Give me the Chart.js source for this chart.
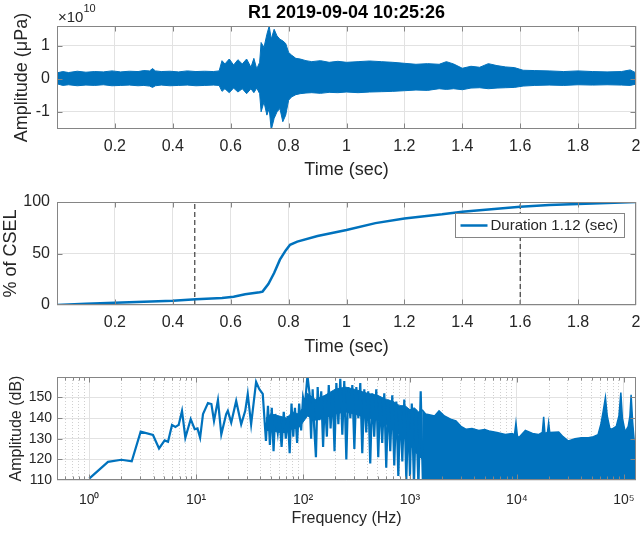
<!DOCTYPE html>
<html>
<head>
<meta charset="utf-8">
<script src="https://cdn.jsdelivr.net/npm/chart.js@4.4.1/dist/chart.umd.min.js"></script>
<style>
  html, body { margin: 0; padding: 0; background: #fff; }
  #wrap { position: relative; width: 642px; height: 533px; overflow: hidden; }
  canvas { position: absolute; left: 0; }
</style>
</head>
<body>
<div id="wrap">
  <canvas id="waveChart" width="642" height="190" style="top:0"></canvas>
  <canvas id="cselChart" width="642" height="170" style="top:190px"></canvas>
  <canvas id="specChart" width="642" height="173" style="top:360px"></canvas>
</div>
<script>
const chartTitle = "R1 2019-09-04 10:25:26";

// top panel: waveform envelope, in units of 1e10 uPa
const waveExponent = 10;
const waveTime = [0, 0.02, 0.04, 0.07, 0.1, 0.13, 0.16, 0.19, 0.22, 0.25,
  0.28, 0.3, 0.32, 0.33, 0.34, 0.36, 0.39, 0.42, 0.45, 0.48,
  0.51, 0.54, 0.56, 0.57, 0.58, 0.595, 0.61, 0.625, 0.64, 0.655,
  0.67, 0.68, 0.69, 0.7, 0.705, 0.715, 0.725, 0.733, 0.74, 0.75,
  0.76, 0.77, 0.78, 0.79, 0.8, 0.81, 0.825, 0.84, 0.86, 0.88,
  0.91, 0.94, 0.97, 1.0, 1.04, 1.08, 1.12, 1.16, 1.2, 1.24,
  1.28, 1.32, 1.345, 1.37, 1.4, 1.43, 1.46, 1.49, 1.52, 1.55,
  1.58, 1.61, 1.65, 1.7, 1.75, 1.8, 1.85, 1.9, 1.95, 1.98, 2.0];
const waveUpper = [0.18, 0.22, 0.19, 0.23, 0.2, 0.22, 0.21, 0.24, 0.21, 0.23,
  0.22, 0.25, 0.24, 0.31, 0.24, 0.22, 0.23, 0.21, 0.24, 0.22,
  0.23, 0.22, 0.24, 0.55, 0.45, 0.6, 0.42, 0.58, 0.45, 0.6,
  0.35, 0.62, 0.3, 0.5, 1.1, 0.95, 1.35, 1.6, 1.2, 1.5,
  1.3, 1.2, 1.15, 1.07, 0.8, 0.72, 0.62, 0.6, 0.55, 0.52,
  0.55, 0.5, 0.53, 0.5, 0.52, 0.54, 0.52, 0.5, 0.47, 0.44,
  0.46, 0.44, 0.52, 0.45, 0.32, 0.38, 0.35, 0.46, 0.4, 0.36,
  0.34, 0.26, 0.25, 0.24, 0.22, 0.24, 0.22, 0.21, 0.22, 0.27, 0.18];
const waveLower = [-0.15, -0.2, -0.18, -0.21, -0.19, -0.2, -0.18, -0.21, -0.2, -0.19,
  -0.21, -0.2, -0.22, -0.26, -0.21, -0.19, -0.21, -0.2, -0.19, -0.21,
  -0.2, -0.19, -0.2, -0.38, -0.3, -0.42, -0.28, -0.4, -0.3, -0.45,
  -0.3, -0.42, -0.28, -0.45, -1.0, -0.7, -1.1, -0.9, -1.55, -1.2,
  -1.0, -0.9, -1.3, -1.1, -0.65, -0.55, -0.48, -0.45, -0.43, -0.42,
  -0.44, -0.41, -0.42, -0.4, -0.42, -0.4, -0.39, -0.38, -0.36, -0.34,
  -0.35, -0.3, -0.32, -0.3, -0.33, -0.28, -0.27, -0.3, -0.28, -0.27,
  -0.26, -0.22, -0.2, -0.19, -0.2, -0.18, -0.19, -0.18, -0.19, -0.2, -0.16];

// middle panel: cumulative SEL in percent
const cselTime = [0, 0.1, 0.2, 0.3, 0.4, 0.48, 0.57, 0.61, 0.65, 0.7, 0.71, 0.73, 0.75, 0.77, 0.79,
  0.805, 0.83, 0.9, 1.0, 1.1, 1.2, 1.33, 1.4, 1.5, 1.6, 1.7, 1.8, 1.9, 2.0];
const cselPct = [0, 1.2, 2.2, 3.2, 4.2, 5.5, 6.8, 8, 10.4, 12.3, 13, 20.4, 31, 44, 53,
  58.5, 61.5, 67, 72.8, 79.5, 84, 88, 90.6, 93, 95.5, 97, 98, 99, 100];
const durationBounds = [0.476, 1.6];
const durationLabel = "Duration 1.12 (sec)";

// bottom panel: spectrum line, mid band of the dense part, high freq envelope
const specFreq = [1.0, 1.5, 2.0, 2.5, 3.03, 3.95, 4.5, 5.08, 5.46, 5.95,
  6.4, 6.87, 7.38, 7.93, 8.9, 9.7, 10.3, 10.9, 11.6, 12.9,
  13.9, 14.7, 16, 17.2, 19.1, 19.8, 21.3, 23.7, 26.4, 28.8,
  30.4, 32.7, 36.4, 39, 42, 45, 47, 49, 51, 53,
  55, 58, 60, 63, 66, 69, 72, 75, 78, 81,
  84, 88, 92, 96, 100, 104, 110, 115, 119, 123,
  127, 132, 137, 142, 148, 154, 160, 167, 174, 181,
  189, 197, 205, 214, 223, 233, 243, 254, 265, 277,
  289, 302, 315, 329, 343, 358, 374, 390, 407, 425,
  444, 463, 484, 505, 527, 550, 575, 600, 626, 654,
  683, 713, 745, 778, 812, 848, 885, 924, 965, 1000,
  1040, 1090, 1140, 1200, 1260, 1320];
const specDb = [110.7, 118.8, 119.8, 119.1, 133.4, 131.8, 125.3, 129.2, 128.5, 136.7,
  135.7, 136.7, 143.5, 130.5, 139.5, 134.6, 135, 130.5, 141.9, 147.3,
  146.8, 138.6, 148.7, 132.1, 141.9, 143.5, 137.8, 148.3, 137, 143.5,
  151.7, 137, 157.5, 154, 151.7, 128.9, 146, 127, 145, 124,
  142, 133, 141, 126, 143, 130, 141, 123, 147, 131,
  145, 128, 147, 134, 150, 146, 160.5, 152, 130, 154,
  136, 121, 155, 139, 153, 126, 150, 131, 156, 135,
  153, 124, 157, 137, 159, 132, 158, 120, 155, 140,
  156, 125, 155, 140, 157, 123, 154, 133, 153, 118,
  152, 131, 154, 121, 150, 128, 152, 116, 149, 124,
  151, 117, 148, 112, 146, 119, 149, 110, 143, 112,
  147, 108, 144, 107, 153, 109];
const midFreq = [45, 50, 60, 70, 80, 90, 100, 110, 130, 160, 200, 250, 300, 400,
  500, 600, 700, 800, 900, 1000, 1100, 1200, 1300];
const midUpper = [140, 142, 141, 140, 143, 142, 145, 152, 149, 151, 154, 155, 154, 152,
  151, 149, 148, 146, 146, 144, 145, 143, 144];
const midLower = [134, 134, 133, 133, 135, 135, 138, 141, 139, 140, 142, 143, 142, 140,
  139, 137, 135, 132, 130, 127, 124, 122, 120];
const bandFreq = [1300, 1400, 1550, 1700, 1870, 2100, 2400,
  2690, 3000, 3330, 3800, 4400, 5000, 5480, 6500, 7800, 9000,
  9500, 9800, 10100, 10400, 12000, 14000, 15900, 17300, 17800, 18300,
  19300, 19800, 20300, 24600, 27000, 30300, 35000, 40000, 46700, 52000,
  57400, 61000, 64000, 67300, 70000, 74000, 77400, 85000, 90000, 93800,
  97000, 103000, 110000, 114000, 117000, 121000, 126000, 131000];
const bandDb = [144, 142, 141.5, 141, 143.5, 141, 139.5,
  138.6, 136, 134.6, 135, 134, 134.5, 133.8, 133, 132.1, 132.5,
  132, 137.8, 131.5, 130.5, 134, 132.5, 132, 133, 140.6, 132.5,
  133, 137.8, 133, 133.3, 131, 128.9, 130, 130.5, 130.5, 131,
  132, 137, 143, 150, 141, 135, 134.6, 136, 141, 152.4,
  140, 133.3, 136, 141, 151.3, 138, 127, 126];

// tick values
const timeTicks = [0, 0.2, 0.4, 0.6, 0.8, 1, 1.2, 1.4, 1.6, 1.8, 2];
const waveTicks = [-1, 0, 1];
const cselTicks = [0, 50, 100];
const dbTicks = [110, 120, 130, 140, 150];
const decadeTicks = [0.1, 1, 10, 100, 1000, 10000, 100000];

const FONT = "'Liberation Sans', Arial, Helvetica, sans-serif";
const BLUE = "#0072bd";
const TXT = "#262626";
const BOX = "#858585";
const GRID = "#e2e2e2";
const MINOR = "#d0d0d0";
const SUP = "⁰¹²³⁴⁵⁶⁷⁸⁹";

const freqMin = 0.5, freqMax = 130000;
const freqTicks = [];
decadeTicks.forEach((d) => {
  for (let m = 1; m < 10; m++) {
    const v = d * m;
    if (v >= freqMin && v <= freqMax) freqTicks.push(v);
  }
});

function isDecade(v) {
  const l = Math.log10(v);
  return Math.abs(l - Math.round(l)) < 1e-9;
}

function points(xs, ys) {
  return xs.map((x, i) => ({ x: x, y: ys[i] }));
}

function fixedTicks(values) {
  return (scale) => { scale.ticks = values.map((v) => ({ value: v })); };
}

function fixHeight(h) {
  return (scale) => { scale.height = h; scale.paddingLeft = 0; scale.paddingRight = 0; };
}

function fixWidth(w) {
  return (scale) => { scale.width = w; scale.paddingTop = 0; scale.paddingBottom = 0; };
}

function axisTitle(text, size, pad) {
  return { display: true, text: text, color: TXT, font: { family: FONT, size: size }, padding: pad };
}

// box round the axes, with inward tick marks like matlab
const boxPlugin = {
  id: "box",
  afterDatasetsDraw(chart) {
    const { ctx, chartArea: a, scales } = chart;
    const L = Math.round(a.left) + 0.5, R = Math.round(a.right) - 0.5;
    const T = Math.round(a.top) + 0.5, B = Math.round(a.bottom) - 0.5;
    ctx.save();
    ctx.strokeStyle = BOX;
    ctx.lineWidth = 1;
    ctx.beginPath();
    scales.x.ticks.forEach((t) => {
      const px = Math.round(scales.x.getPixelForValue(t.value)) + 0.5;
      if (px <= L + 1 || px >= R - 1) return;
      const len = scales.x.type === "logarithmic" && !isDecade(t.value) ? 3 : 5;
      ctx.moveTo(px, B); ctx.lineTo(px, B - len);
      ctx.moveTo(px, T); ctx.lineTo(px, T + len);
    });
    scales.y.ticks.forEach((t) => {
      const py = Math.round(scales.y.getPixelForValue(t.value)) + 0.5;
      if (py <= T + 1 || py >= B - 1) return;
      ctx.moveTo(L, py); ctx.lineTo(L + 5, py);
      ctx.moveTo(R, py); ctx.lineTo(R - 5, py);
    });
    ctx.stroke();
    ctx.strokeRect(L, T, R - L, B - T);
    ctx.restore();
  },
};
Chart.register(boxPlugin);

const waveHeader = {
  id: "waveHeader",
  afterDraw(chart) {
    const { ctx, chartArea: a } = chart;
    ctx.save();
    ctx.textBaseline = "middle";
    ctx.fillStyle = "#000";
    ctx.font = "bold 18px " + FONT;
    ctx.textAlign = "center";
    ctx.fillText(chartTitle, (a.left + a.right) / 2, 13.5);
    ctx.textAlign = "left";
    ctx.fillStyle = TXT;
    ctx.font = "15px " + FONT;
    ctx.fillText("×10", a.left + 1, 18);
    const w = ctx.measureText("×10").width;
    ctx.font = "11px " + FONT;
    ctx.fillText(String(waveExponent), a.left + 1 + w, 9);
    ctx.restore();
  },
};

const cselLegend = {
  id: "cselLegend",
  afterDraw(chart) {
    const { ctx, chartArea: a } = chart;
    const left = Math.round(a.right) - 181 + 0.5, top = Math.round(a.top) + 11 + 0.5;
    ctx.save();
    ctx.fillStyle = "#fff";
    ctx.fillRect(left, top, 169, 24);
    ctx.strokeStyle = BOX;
    ctx.lineWidth = 1;
    ctx.strokeRect(left, top, 169, 24);
    ctx.strokeStyle = BLUE;
    ctx.lineWidth = 2.5;
    ctx.beginPath();
    ctx.moveTo(left + 5, top + 12);
    ctx.lineTo(left + 32, top + 12);
    ctx.stroke();
    ctx.fillStyle = TXT;
    ctx.font = "15px " + FONT;
    ctx.textBaseline = "middle";
    ctx.fillText(durationLabel, left + 35, top + 12.5);
    ctx.restore();
  },
};

function baseOptions(padding) {
  return {
    responsive: false,
    animation: false,
    events: [],
    layout: { padding: padding },
    plugins: { legend: { display: false }, tooltip: { enabled: false } },
  };
}

function timeAxis(height) {
  return {
    type: "linear",
    min: 0,
    max: 2,
    afterBuildTicks: fixedTicks(timeTicks),
    afterFit: fixHeight(height),
    ticks: {
      color: TXT, font: { family: FONT, size: 16 }, padding: 8, autoSkip: false, maxRotation: 0,
      callback: (v) => (v === 0 ? "" : String(Math.round(v * 10) / 10)),
    },
    grid: { color: GRID, drawTicks: false },
    border: { display: false },
    title: axisTitle("Time (sec)", 18, { top: 0, bottom: 0 }),
  };
}

// top: waveform
const waveOpts = baseOptions({ top: 26, right: 6, bottom: 9.2, left: 0 });
waveOpts.scales = {
  x: timeAxis(51.8),
  y: {
    min: -1.52,
    max: 1.6,
    afterBuildTicks: fixedTicks(waveTicks),
    afterFit: fixWidth(57),
    ticks: { color: TXT, font: { family: FONT, size: 16 }, padding: 7, callback: (v) => String(v) },
    grid: { color: GRID, drawTicks: false },
    border: { display: false },
    title: axisTitle("Amplitude (μPa)", 18, { top: 11, bottom: 0 }),
  },
};
new Chart(document.getElementById("waveChart"), {
  type: "line",
  data: {
    datasets: [
      { data: points(waveTime, waveLower), borderColor: BLUE, borderWidth: 1, pointRadius: 0, fill: false },
      { data: points(waveTime, waveUpper), borderColor: BLUE, backgroundColor: BLUE, borderWidth: 1, pointRadius: 0, fill: "-1" },
    ],
  },
  options: waveOpts,
  plugins: [waveHeader],
});

// middle: cumulative SEL
const cselOpts = baseOptions({ top: 12, right: 6, bottom: 2.2, left: 0 });
cselOpts.scales = {
  x: timeAxis(52.8),
  y: {
    min: 0,
    max: 100,
    afterBuildTicks: fixedTicks(cselTicks),
    afterFit: fixWidth(57),
    ticks: { color: TXT, font: { family: FONT, size: 16 }, padding: 7 },
    grid: { color: GRID, drawTicks: false },
    border: { display: false },
    title: axisTitle("% of CSEL", 18, { top: 0, bottom: 0 }),
  },
};
const boundSets = durationBounds.map((t) => ({
  data: [{ x: t, y: 0 }, { x: t, y: 100 }],
  borderColor: "#1a1a1a",
  borderWidth: 1,
  borderDash: [5, 3],
  pointRadius: 0,
  fill: false,
}));
new Chart(document.getElementById("cselChart"), {
  type: "line",
  data: {
    datasets: [
      { data: points(cselTime, cselPct), borderColor: BLUE, borderWidth: 2.5, pointRadius: 0, fill: false },
    ].concat(boundSets),
  },
  options: cselOpts,
  plugins: [cselLegend],
});

// bottom: spectrum
const specOpts = baseOptions({ top: 17, right: 6, bottom: 4.4, left: 0 });
specOpts.scales = {
  x: {
    type: "logarithmic",
    min: freqMin,
    max: freqMax,
    afterBuildTicks: fixedTicks(freqTicks),
    afterFit: fixHeight(48.6),
    ticks: {
      color: TXT, font: { family: FONT, size: 14 }, padding: 12, autoSkip: false, maxRotation: 0,
      callback: (v) => (isDecade(v) ? "10" + SUP[Math.round(Math.log10(v))] : ""),
    },
    grid: {
      color: (c) => (c.tick && isDecade(c.tick.value) ? GRID : MINOR),
      drawTicks: false,
    },
    border: {
      display: false,
      dash: (c) => (c.tick && !isDecade(c.tick.value) ? [1, 2] : []),
    },
    title: axisTitle("Frequency (Hz)", 16, { top: 0, bottom: 0 }),
  },
  y: {
    min: 110,
    max: 159.9,
    afterBuildTicks: fixedTicks(dbTicks),
    afterFit: fixWidth(57),
    ticks: { color: TXT, font: { family: FONT, size: 14 }, padding: 5 },
    grid: { color: GRID, drawTicks: false },
    border: { display: false },
    title: axisTitle("Amplitude (dB)", 16, { top: 7, bottom: 0 }),
  },
};
new Chart(document.getElementById("specChart"), {
  type: "line",
  data: {
    datasets: [
      { data: points(specFreq, specDb), borderColor: BLUE, borderWidth: 2.2, pointRadius: 0, fill: false },
      { data: points(bandFreq, bandDb), borderColor: BLUE, backgroundColor: BLUE, borderWidth: 1.5, pointRadius: 0, fill: "start" },
      { data: points(midFreq, midLower), borderColor: BLUE, borderWidth: 1, pointRadius: 0, fill: false },
      { data: points(midFreq, midUpper), borderColor: BLUE, backgroundColor: BLUE, borderWidth: 1, pointRadius: 0, fill: "-1" },
    ],
  },
  options: specOpts,
});
</script>
</body>
</html>
